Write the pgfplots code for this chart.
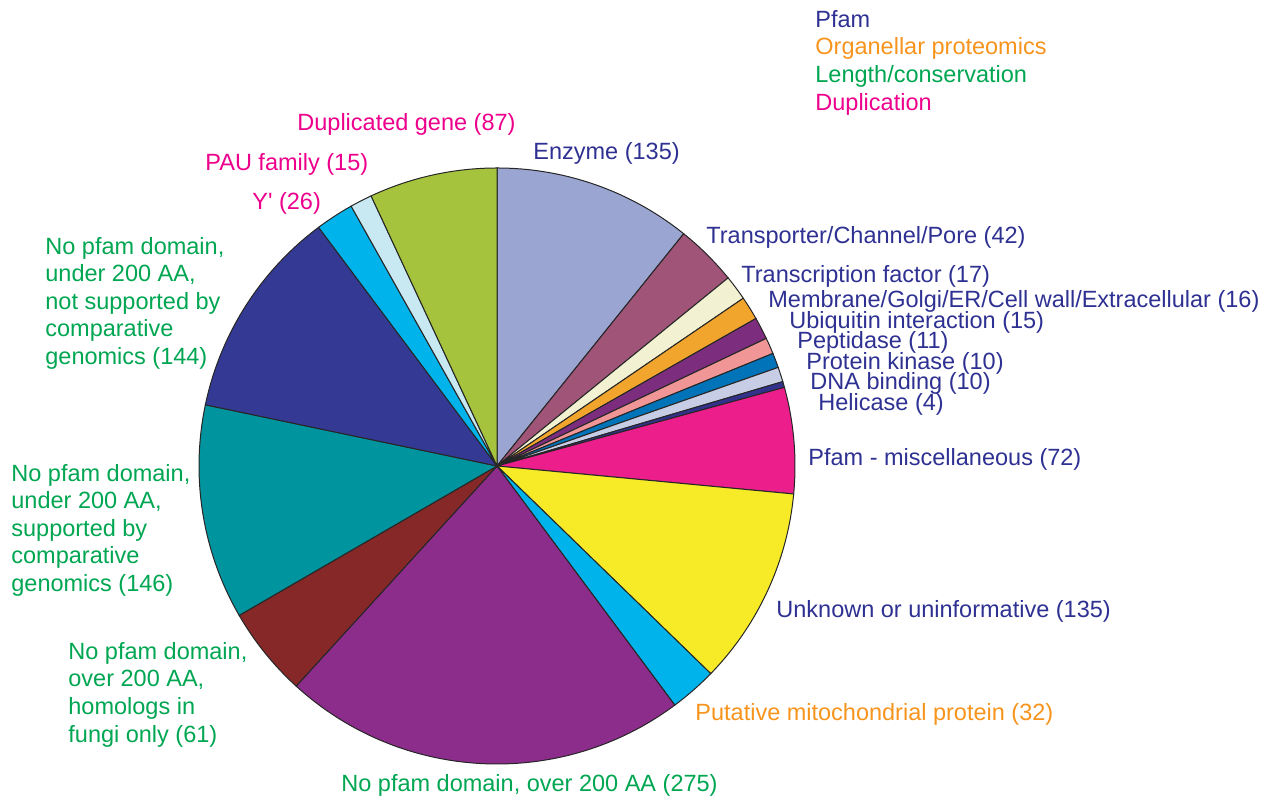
\documentclass[border=0pt]{standalone}
\usepackage{pgfplots}
\usepackage{pgfplotstable}
\pgfplotsset{compat=1.18}
\usepackage{fontspec}
\setmainfont{Liberation Sans}

\definecolor{cpf}{RGB}{46,49,146}
\definecolor{corg}{RGB}{247,148,29}
\definecolor{clen}{RGB}{0,166,81}
\definecolor{cdup}{RGB}{236,0,140}

\definecolor{sl0}{RGB}{155,165,210}
\definecolor{sl1}{RGB}{160,85,120}
\definecolor{sl2}{RGB}{242,242,210}
\definecolor{sl3}{RGB}{242,165,45}
\definecolor{sl4}{RGB}{125,45,125}
\definecolor{sl5}{RGB}{240,150,150}
\definecolor{sl6}{RGB}{0,115,185}
\definecolor{sl7}{RGB}{200,205,230}
\definecolor{sl8}{RGB}{50,50,140}
\definecolor{sl9}{RGB}{235,30,140}
\definecolor{sl10}{RGB}{247,235,40}
\definecolor{sl11}{RGB}{0,180,235}
\definecolor{sl12}{RGB}{140,45,140}
\definecolor{sl13}{RGB}{135,40,40}
\definecolor{sl14}{RGB}{0,148,158}
\definecolor{sl15}{RGB}{52,58,148}
\definecolor{sl16}{RGB}{0,180,235}
\definecolor{sl17}{RGB}{200,232,242}
\definecolor{sl18}{RGB}{165,195,60}

% counts, clockwise from 12 o'clock
\pgfplotstableread{
value
135
42
17
16
15
11
10
10
4
72
135
32
275
61
146
144
26
15
87
}\pietable
\pgfplotstablecreatecol[create col/expr accum={\pgfmathaccuma + \thisrow{value}}{0}]{cum}\pietable

\newcommand\lf{\fontsize{11.75}{13.75}\selectfont}
\newcommand\lab[4]{\node[anchor=base west, inner sep=0pt, text=#1, font=\lf] at (axis cs:#2,#3) {#4};}

\begin{document}
\pgfplotstablegetelem{18}{cum}\of\pietable
\let\pietotal\pgfplotsretval
\begin{tikzpicture}
\begin{axis}[x=0.5pt, y=0.5pt, xmin=0, xmax=1277, ymin=0, ymax=802,
  hide axis, clip=false]
\path (axis cs:0,0) rectangle (axis cs:1277,802);
\pgfplotsforeachungrouped \i in {0,...,18}{%
  \pgfplotstablegetelem{\i}{value}\of\pietable \let\pieval\pgfplotsretval
  \pgfplotstablegetelem{\i}{cum}\of\pietable \let\piecum\pgfplotsretval
  \pgfmathsetmacro\pieea{90-(\piecum/\pietotal)*360}%
  \pgfmathsetmacro\piesa{\pieea+(\pieval/\pietotal)*360}%
  \edef\temp{\noexpand\filldraw[fill=sl\i, draw=black!85, line width=0.5pt]
    (axis cs:497,336) -- ++(\piesa:149pt) arc[start angle=\piesa, end angle=\pieea, radius=149pt] -- cycle;}%
  \temp
}
% legend
\lab{cpf}{815}{774}{Pfam}
\lab{corg}{815}{747}{Organellar proteomics}
\lab{clen}{815}{719}{Length/conservation}
\lab{cdup}{815}{691}{Duplication}
% Pfam labels
\lab{cpf}{533}{642}{Enzyme (135)}
\lab{cpf}{706}{558}{Transporter/Channel/Pore (42)}
\lab{cpf}{741}{519.5}{Transcription factor (17)}
\lab{cpf}{768}{494}{Membrane/Golgi/ER/Cell wall/Extracellular (16)}
\lab{cpf}{789}{473}{Ubiquitin interaction (15)}
\lab{cpf}{797}{453.5}{Peptidase (11)}
\lab{cpf}{806}{432}{Protein kinase (10)}
\lab{cpf}{810}{412}{DNA binding (10)}
\lab{cpf}{818}{391.5}{Helicase (4)}
\lab{cpf}{808}{336.5}{Pfam - miscellaneous (72)}
\lab{cpf}{776}{184.5}{Unknown or uninformative (135)}
% organellar
\lab{corg}{695}{82}{Putative mitochondrial protein (32)}
% length/conservation
\lab{clen}{341}{11}{No pfam domain, over 200 AA (275)}
\lab{clen}{68}{142.5}{No pfam domain,}
\lab{clen}{68}{115}{over 200 AA,}
\lab{clen}{68}{87.5}{homologs in}
\lab{clen}{68}{60}{fungi only (61)}
\lab{clen}{11}{320.5}{No pfam domain,}
\lab{clen}{11}{293}{under 200 AA,}
\lab{clen}{11}{265.5}{supported by}
\lab{clen}{11}{238}{comparative}
\lab{clen}{11}{210.5}{genomics (146)}
\lab{clen}{45}{547.5}{No pfam domain,}
\lab{clen}{45}{520}{under 200 AA,}
\lab{clen}{45}{492.5}{not supported by}
\lab{clen}{45}{465}{comparative}
\lab{clen}{45}{437.5}{genomics (144)}
% duplication
\lab{cdup}{252}{592}{Y\textquotesingle{} (26)}
\lab{cdup}{205}{631}{PAU family (15)}
\lab{cdup}{297}{671}{Duplicated gene (87)}
\end{axis}
\end{tikzpicture}
\end{document}
